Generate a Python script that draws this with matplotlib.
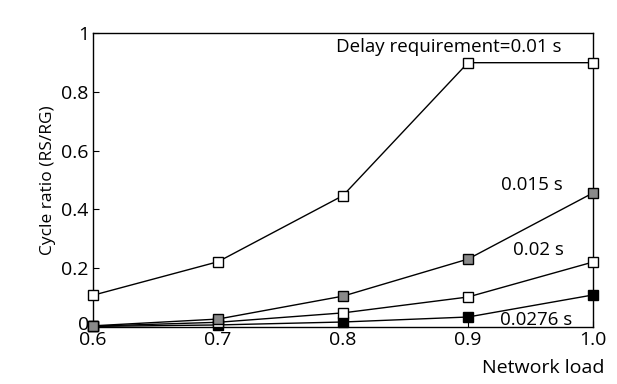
import matplotlib
matplotlib.use("Agg")
import matplotlib.pyplot as plt
from matplotlib.transforms import ScaledTranslation

load = [0.6, 0.7, 0.8, 0.9, 1.0]
s_001 = [0.108, 0.222, 0.447, 0.899, 0.899]
s_0015 = [0.004, 0.027, 0.105, 0.231, 0.456]
s_002 = [0.003, 0.016, 0.048, 0.102, 0.221]
s_00276 = [0.002, 0.007, 0.017, 0.034, 0.109]
labels = ["Delay requirement=0.01 s", "0.015 s", "0.02 s", "0.0276 s"]
xticks = [0.6, 0.7, 0.8, 0.9, 1.0]
xticklabels = ["0.6", "0.7", "0.8", "0.9", "1.0"]
yticks = [0, 0.2, 0.4, 0.6, 0.8, 1.0]
yticklabels = ["0", "0.2", "0.4", "0.6", "0.8", "1"]

plt.rcParams['font.family'] = ['Open Sans', 'DejaVu Sans']

fig = plt.figure(figsize=(6.17, 3.84), dpi=100)
ax = fig.add_axes([93/617, 1-327/384, 500/617, 294/384])

ms = 6.5
ax.plot(load, s_00276, '-', color='black', lw=1, marker='s', ms=ms, mfc='black', mec='black', zorder=3, clip_on=False)
ax.plot(load, s_002, '-', color='black', lw=1, marker='s', ms=ms, mfc='white', mec='black', zorder=3, clip_on=False)
ax.plot(load, s_0015, '-', color='black', lw=1, marker='s', ms=ms, mfc='#8a8a8a', mec='black', zorder=3, clip_on=False)
ax.plot(load, s_001, '-', color='black', lw=1, marker='s', ms=ms, mfc='white', mec='black', zorder=3, clip_on=False)

fs = 13.5
ax.text(0.975, 0.952, labels[0], ha='right', va='center', fontsize=fs)
ax.text(0.976, 0.483, labels[1], ha='right', va='center', fontsize=fs)
ax.text(0.977, 0.262, labels[2], ha='right', va='center', fontsize=fs)
ax.text(0.983, 0.025, labels[3], ha='right', va='center', fontsize=fs)

ax.set_xlim(0.6, 1.0)
ax.set_ylim(0, 1)
ax.set_xticks(xticks)
ax.set_xticklabels(xticklabels, fontsize=14)
ax.set_yticks(yticks)
ax.set_yticklabels(yticklabels, fontsize=14)
ax.tick_params(direction='in', length=4, width=0.8)
ax.tick_params(axis='y', pad=3)
ax.tick_params(axis='x', pad=3)
for s in ax.spines.values():
    s.set_linewidth(1)

zero_label = ax.get_yticklabels()[0]
zero_label.set_transform(zero_label.get_transform() + ScaledTranslation(0, 3/72, fig.dpi_scale_trans))

ax.set_ylabel("Cycle ratio (RS/RG)", fontsize=12.5, labelpad=4)
fig.text(605/617, 1-368/384, "Network load", ha='right', va='center', fontsize=14)

fig.savefig("out.png", dpi=100)
